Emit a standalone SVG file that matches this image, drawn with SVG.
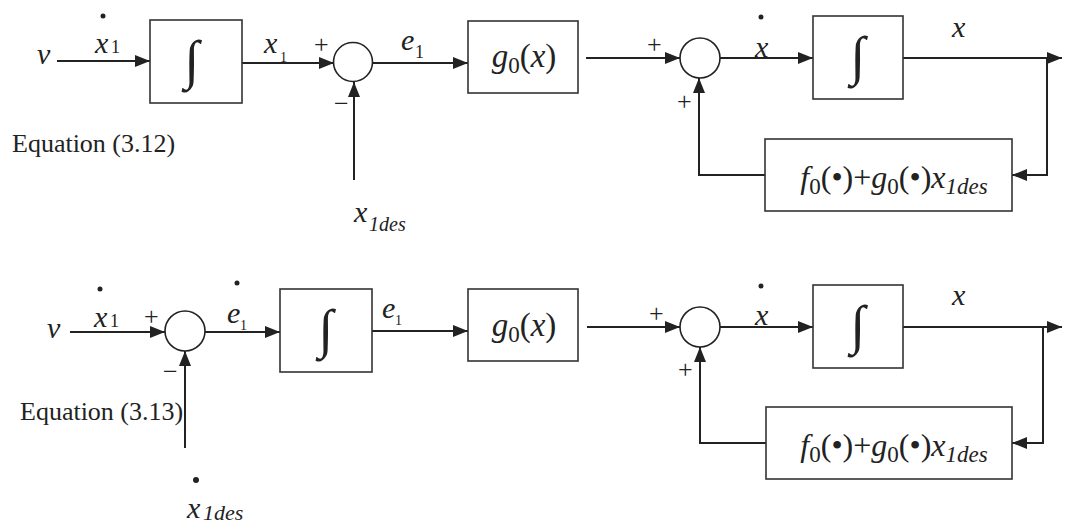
<svg xmlns="http://www.w3.org/2000/svg" width="1066" height="529" viewBox="0 0 1066 529">
<style>
.box{fill:none;stroke:#333;stroke-width:1.6}
.sum{fill:#fff;stroke:#222;stroke-width:1.6}
.ln{fill:none;stroke:#222;stroke-width:2}
.t{font-family:"Liberation Serif","Times New Roman",serif;fill:#222}
.i{font-style:italic}
.int{font-family:"Liberation Serif","DejaVu Serif",serif;font-size:54px;fill:#222;text-anchor:middle}
.sg{font-family:"Liberation Serif",serif;font-size:26px;fill:#222}
</style>
<defs>
<marker id="ah" markerUnits="userSpaceOnUse" markerWidth="16" markerHeight="12" refX="15" refY="6" orient="auto">
<path d="M0,0 L15,6 L0,12 Z" fill="#222"/>
</marker>
</defs>
<rect width="1066" height="529" fill="#fff"/>

<g id="connectors">
<path class="ln" d="M57,61 H150" marker-end="url(#ah)"/>
<path class="ln" d="M242,63 H334" marker-end="url(#ah)"/>
<path class="ln" d="M354,180 V82" marker-end="url(#ah)"/>
<path class="ln" d="M373,63 H468" marker-end="url(#ah)"/>
<path class="ln" d="M586,58 H680" marker-end="url(#ah)"/>
<path class="ln" d="M720,58 H813" marker-end="url(#ah)"/>
<path class="ln" d="M903,58 H1062" marker-end="url(#ah)"/>
<path class="ln" d="M1047,58 V175 H1012" marker-end="url(#ah)"/>
<path class="ln" d="M765,175 H699 V78" marker-end="url(#ah)"/>

<path class="ln" d="M70,332 H165" marker-end="url(#ah)"/>
<path class="ln" d="M185,448 V351" marker-end="url(#ah)"/>
<path class="ln" d="M205,332 H280" marker-end="url(#ah)"/>
<path class="ln" d="M372,331 H468" marker-end="url(#ah)"/>
<path class="ln" d="M587,327 H680" marker-end="url(#ah)"/>
<path class="ln" d="M720,327 H813" marker-end="url(#ah)"/>
<path class="ln" d="M903,327 H1062" marker-end="url(#ah)"/>
<path class="ln" d="M1043,327 V443 H1012" marker-end="url(#ah)"/>
<path class="ln" d="M766,443 H700 V347" marker-end="url(#ah)"/>
</g>

<g id="int1"><rect class="box" x="150" y="20" width="92" height="83"/><text class="int" x="192" y="78">∫</text></g>
<g id="sum1"><circle class="sum" cx="353" cy="62" r="19.5"/></g>
<g id="g0a"><rect class="box" x="468" y="21" width="110" height="72"/>
<text class="t" x="524" y="67" font-size="33" text-anchor="middle"><tspan class="i">g</tspan><tspan font-size="23" dy="6">0</tspan><tspan dy="-6">(</tspan><tspan class="i">x</tspan>)</text></g>
<g id="sum2"><circle class="sum" cx="700" cy="58" r="20"/></g>
<g id="int2"><rect class="box" x="813" y="16" width="90" height="83"/><text class="int" x="858" y="74">∫</text></g>
<g id="fb1"><rect class="box" x="765" y="139" width="247" height="72"/>
<text class="t" x="894" y="188" font-size="32" text-anchor="middle"><tspan class="i">f</tspan><tspan font-size="23" dy="6">0</tspan><tspan dy="-6">(•)+</tspan><tspan class="i">g</tspan><tspan font-size="23" dy="6">0</tspan><tspan dy="-6">(•)</tspan><tspan class="i">x</tspan><tspan class="i" font-size="23" dy="6">1des</tspan></text></g>

<g id="labels1">
<text class="t i" x="37" y="64" font-size="30">v</text>
<circle cx="103" cy="16" r="2.5" fill="#222"/>
<text class="t i" x="95" y="53" font-size="30">x</text>
<text class="t" x="111" y="53" font-size="18">1</text>
<text class="t i" x="264" y="53" font-size="30">x</text>
<text class="t" x="280" y="62" font-size="14">1</text>
<text class="sg" x="314" y="53">+</text>
<text class="sg" x="334" y="112">−</text>
<text class="t i" x="354" y="222" font-size="30">x</text>
<text class="t i" x="369" y="231" font-size="20">1des</text>
<text class="t i" x="401" y="50" font-size="30">e</text>
<text class="t" x="415" y="58" font-size="18">1</text>
<text class="sg" x="647" y="53">+</text>
<text class="sg" x="677" y="110">+</text>
<circle cx="761" cy="17" r="2.5" fill="#222"/>
<text class="t i" x="755" y="57" font-size="30">x</text>
<text class="t i" x="952" y="37" font-size="30">x</text>
<text class="t" x="12" y="152" font-size="26">Equation (3.12)</text>
</g>

<g id="sum3"><circle class="sum" cx="185" cy="331" r="20"/></g>
<g id="int3"><rect class="box" x="280" y="289" width="92" height="83"/><text class="int" x="326" y="347">∫</text></g>
<g id="g0b"><rect class="box" x="468" y="289" width="110" height="72"/>
<text class="t" x="524" y="336" font-size="33" text-anchor="middle"><tspan class="i">g</tspan><tspan font-size="23" dy="6">0</tspan><tspan dy="-6">(</tspan><tspan class="i">x</tspan>)</text></g>
<g id="sum4"><circle class="sum" cx="700" cy="327" r="20"/></g>
<g id="int4"><rect class="box" x="813" y="285" width="90" height="83"/><text class="int" x="858" y="343">∫</text></g>
<g id="fb2"><rect class="box" x="766" y="407" width="246" height="72"/>
<text class="t" x="894" y="456" font-size="32" text-anchor="middle"><tspan class="i">f</tspan><tspan font-size="23" dy="6">0</tspan><tspan dy="-6">(•)+</tspan><tspan class="i">g</tspan><tspan font-size="23" dy="6">0</tspan><tspan dy="-6">(•)</tspan><tspan class="i">x</tspan><tspan class="i" font-size="23" dy="6">1des</tspan></text></g>

<g id="labels2">
<text class="t i" x="47" y="338" font-size="30">v</text>
<circle cx="100" cy="289" r="2.5" fill="#222"/>
<text class="t i" x="94" y="327" font-size="30">x</text>
<text class="t" x="110" y="327" font-size="18">1</text>
<text class="sg" x="144" y="325">+</text>
<text class="sg" x="163" y="380">−</text>
<text class="t" x="20" y="420" font-size="26">Equation (3.13)</text>
<circle cx="196" cy="480" r="3" fill="#222"/>
<text class="t i" x="187" y="518" font-size="30">x</text>
<text class="t i" x="203" y="520" font-size="22">1des</text>
<circle cx="237" cy="283" r="2.5" fill="#222"/>
<text class="t i" x="227" y="323" font-size="30">e</text>
<text class="t" x="240" y="330" font-size="14">1</text>
<text class="t i" x="382" y="318" font-size="30">e</text>
<text class="t" x="395" y="325" font-size="14">1</text>
<text class="sg" x="649" y="322">+</text>
<text class="sg" x="678" y="378">+</text>
<circle cx="761" cy="286" r="2.5" fill="#222"/>
<text class="t i" x="755" y="325" font-size="30">x</text>
<text class="t i" x="952" y="305" font-size="30">x</text>
</g>
</svg>
